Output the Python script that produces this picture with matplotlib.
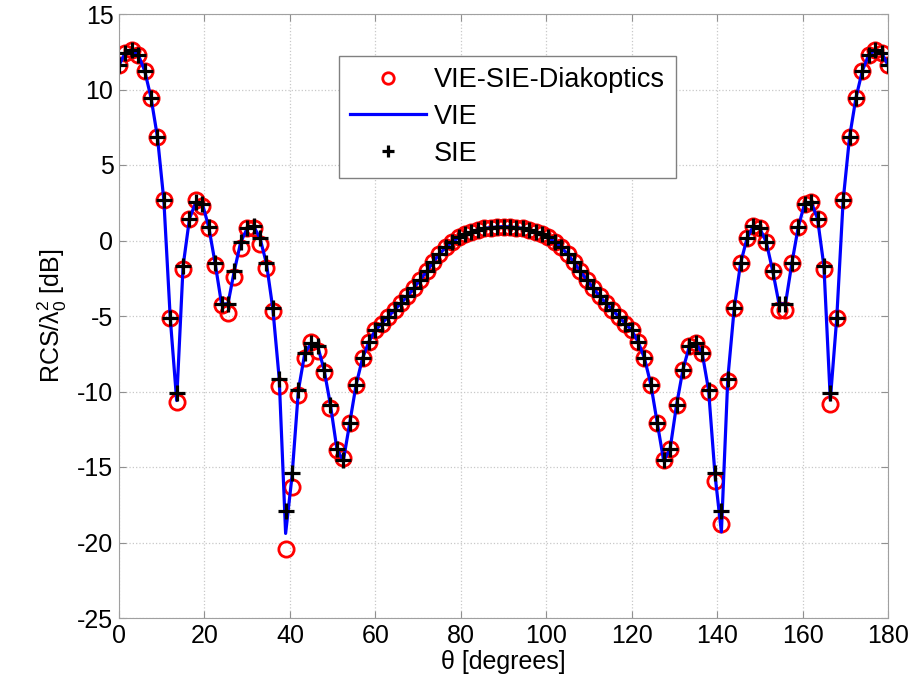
import numpy as np
import matplotlib
matplotlib.use('Agg')
import matplotlib.pyplot as plt

plt.rcParams['font.family'] = ['Liberation Sans', 'DejaVu Sans']
plt.rcParams['mathtext.fontset'] = 'custom'
plt.rcParams['mathtext.rm'] = 'Liberation Sans'
plt.rcParams['mathtext.it'] = 'Liberation Sans'
plt.rcParams['axes.unicode_minus'] = False

# Data (theta every 1.5 degrees, 0..180)
theta = np.arange(121) * 1.5

rcs_sie = [
    11.6, 12.45, 12.6, 12.3, 11.25, 9.45, 6.85, 2.65, -5.15, -10.1,
    -1.7, 1.45, 2.55, 2.45, 0.9, -1.5, -4.2, -4.2, -2.0, -0.1,
    0.8, 0.95, 0.15, -1.5, -4.5, -9.15, -17.9, -15.4, -9.9, -7.45,
    -6.8, -7.0, -8.55, -10.9, -13.8, -14.55, -12.1, -9.55, -7.8, -6.7,
    -5.95, -5.5, -5.05, -4.6, -4.15, -3.7, -3.15, -2.6, -2.05, -1.45,
    -0.9, -0.45, -0.1, 0.2, 0.4, 0.55, 0.7, 0.8, 0.85, 0.9,
    0.92,
    0.9, 0.85, 0.8, 0.7, 0.55, 0.4, 0.2, -0.1, -0.45, -0.9,
    -1.45, -2.05, -2.6, -3.15, -3.7, -4.15, -4.6, -5.05, -5.5, -5.95,
    -6.7, -7.8, -9.55, -12.1, -14.55, -13.8, -10.9, -8.55, -7.0, -6.8,
    -7.45, -9.9, -15.4, -17.9, -9.15, -4.5, -1.5, 0.15, 0.95, 0.8,
    -0.1, -2.0, -4.2, -4.2, -1.5, 0.9, 2.45, 2.55, 1.45, -1.7,
    -10.1, -5.15, 2.65, 6.85, 9.45, 11.25, 12.3, 12.6, 12.45, 11.6,
]

rcs_diak = [
    11.6, 12.45, 12.6, 12.3, 11.25, 9.45, 6.85, 2.65, -5.1, -10.7,
    -1.9, 1.4, 2.7, 2.3, 0.8, -1.6, -4.3, -4.8, -2.4, -0.5,
    0.85, 0.85, -0.2, -1.85, -4.7, -9.65, -20.4, -16.3, -10.25, -7.8,
    -6.75, -7.35, -8.7, -11.1, -13.9, -14.4, -12.1, -9.55, -7.8, -6.7,
    -5.95, -5.5, -5.05, -4.6, -4.15, -3.7, -3.15, -2.6, -2.05, -1.45,
    -0.9, -0.45, -0.1, 0.2, 0.4, 0.55, 0.7, 0.8, 0.85, 0.9,
    0.92,
    0.9, 0.85, 0.8, 0.7, 0.55, 0.4, 0.2, -0.1, -0.45, -0.9,
    -1.45, -2.05, -2.6, -3.15, -3.7, -4.15, -4.6, -5.05, -5.5, -5.95,
    -6.7, -7.8, -9.55, -12.1, -14.55, -13.8, -10.9, -8.55, -7.0, -6.8,
    -7.45, -10.0, -15.9, -18.8, -9.3, -4.5, -1.5, 0.15, 0.95, 0.8,
    -0.1, -2.0, -4.6, -4.6, -1.5, 0.9, 2.45, 2.55, 1.45, -1.9,
    -10.8, -5.1, 2.65, 6.85, 9.45, 11.25, 12.3, 12.6, 12.45, 11.6,
]

rcs_vie = [
    11.6, 12.45, 12.6, 12.3, 11.25, 9.45, 6.85, 2.65, -5.15, -10.6,
    -1.7, 1.45, 2.55, 2.45, 0.9, -1.5, -4.2, -4.2, -2.0, -0.1,
    0.8, 0.95, 0.15, -1.5, -4.5, -9.15, -19.4, -15.6, -9.9, -7.45,
    -6.8, -7.0, -8.55, -10.9, -13.8, -14.6, -12.1, -9.55, -7.8, -6.7,
    -5.95, -5.5, -5.05, -4.6, -4.15, -3.7, -3.15, -2.6, -2.05, -1.45,
    -0.9, -0.45, -0.1, 0.2, 0.4, 0.55, 0.7, 0.8, 0.85, 0.9,
    0.92,
    0.9, 0.85, 0.8, 0.7, 0.55, 0.4, 0.2, -0.1, -0.45, -0.9,
    -1.45, -2.05, -2.6, -3.15, -3.7, -4.15, -4.6, -5.05, -5.5, -5.95,
    -6.7, -7.8, -9.55, -12.1, -14.6, -13.8, -10.9, -8.55, -7.0, -6.8,
    -7.45, -9.9, -15.5, -19.3, -9.15, -4.5, -1.5, 0.15, 0.95, 0.8,
    -0.1, -2.0, -4.2, -4.2, -1.5, 0.9, 2.45, 2.55, 1.45, -1.7,
    -10.55, -5.15, 2.65, 6.85, 9.45, 11.25, 12.3, 12.6, 12.45, 11.6,
]

fig = plt.figure(figsize=(9.16, 6.96), dpi=100)
ax = fig.add_axes([119 / 916, 78 / 696, 769 / 916, 604 / 696])

ax.plot(theta, rcs_diak, 'o', ms=11, mfc='none', mec='red', mew=2.0,
        label='VIE-SIE-Diakoptics')
ax.plot(theta, rcs_vie, '-', color='blue', lw=2.3, label='VIE')
ax.plot(theta, rcs_sie, '+', ms=11, color='black', mew=2.3, label='SIE')

ax.set_xlim(0, 180)
ax.set_ylim(-25, 15)
ax.set_xticks(np.arange(0, 181, 20))
ax.set_yticks(np.arange(-25, 16, 5))
ax.tick_params(direction='in', top=True, right=True, labelsize=18,
               length=5, color='#909090', pad=4)
for s in ax.spines.values():
    s.set_color('#a0a0a0')
ax.grid(True, linestyle=':', color='#c8c8c8', lw=0.9)

ax.set_xlabel('θ [degrees]', fontsize=18, labelpad=2)
ax.set_ylabel('RCS/λ$_0^2$ [dB]', fontsize=18, labelpad=6)

leg = ax.legend(loc='upper left', bbox_to_anchor=(0.286, 0.930),
                borderaxespad=0, fontsize=19.5, handlelength=2.8,
                handletextpad=0.3, labelspacing=0.4, borderpad=0.4,
                markerscale=0.75, fancybox=False,
                framealpha=1, edgecolor='#808080')
leg.get_frame().set_linewidth(1.0)

fig.savefig('out.png', dpi=100)
